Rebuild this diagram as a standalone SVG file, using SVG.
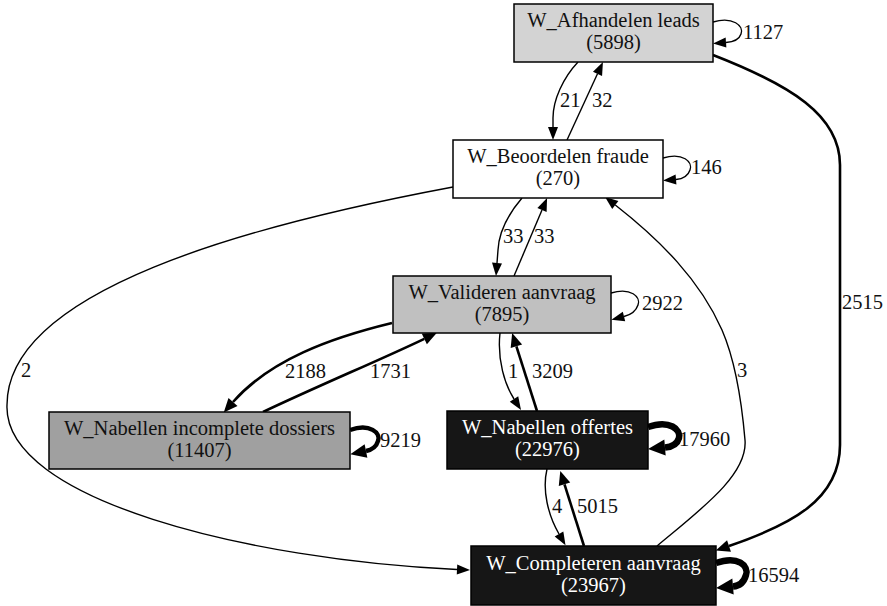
<svg xmlns="http://www.w3.org/2000/svg" width="887" height="606" viewBox="0 0 887 606">
  <style>
    .node rect { stroke: #000; stroke-width: 1.5; }
    .node text { font-family: "Liberation Serif", "Times New Roman", serif; font-size: 20.5px; text-anchor: middle; fill: #111; }
    .node.dark text { fill: #fff; }
    .edges path { fill: none; stroke: #000; }
    .edges text { font-family: "Liberation Serif", "Times New Roman", serif; font-size: 20.5px; fill: #111; }
    .w1 { stroke-width: 1.4; marker-end: url(#a1); }
    .w2 { stroke-width: 2.6; marker-end: url(#a2); }
    .w4 { stroke-width: 4.5; marker-end: url(#a4); }
    .w6 { stroke-width: 6.5; marker-end: url(#a6); }
  </style>
  <defs>
    <marker id="a1" viewBox="0 -5 13 10" refX="0" refY="0" markerWidth="13" markerHeight="10" markerUnits="userSpaceOnUse" orient="auto" overflow="visible">
      <path d="M0,-5 L13,0 L0,5 z" fill="#000"/>
    </marker>
    <marker id="a2" viewBox="0 -6 14 12" refX="0" refY="0" markerWidth="14" markerHeight="12" markerUnits="userSpaceOnUse" orient="auto" overflow="visible">
      <path d="M0,-6 L14,0 L0,6 z" fill="#000"/>
    </marker>
    <marker id="a4" viewBox="0 -7 16 14" refX="0" refY="0" markerWidth="16" markerHeight="14" markerUnits="userSpaceOnUse" orient="auto" overflow="visible">
      <path d="M0,-7 L16,0 L0,7 z" fill="#000"/>
    </marker>
    <marker id="a6" viewBox="0 -8 17 16" refX="0" refY="0" markerWidth="17" markerHeight="16" markerUnits="userSpaceOnUse" orient="auto" overflow="visible">
      <path d="M0,-8 L17,0 L0,8 z" fill="#000"/>
    </marker>
  </defs>

  <rect width="887" height="606" fill="#fff"/>

  <!-- connectors -->
  <g id="edges" class="edges">
    <!-- W_Afhandelen leads loop -->
    <path class="w1" d="M713,22 C733,16 744,26 741,34 C739,40 733,42 726,42.5"/>
    <text x="743" y="39">1127</text>
    <!-- Afhandelen -> Beoordelen -->
    <path class="w1" d="M578,62 C563,78 553,100 553,118 L553,127"/>
    <text x="560" y="107">21</text>
    <!-- Beoordelen -> Afhandelen -->
    <path class="w1" d="M567,140 L597.5,73.8"/>
    <text x="592" y="107">32</text>
    <!-- Afhandelen -> Completeren -->
    <path class="w2" d="M713,55 C790,85 840,115 840,165 L840,445 C840,500 790,525 729,546"/>
    <text x="842" y="309">2515</text>

    <!-- W_Beoordelen fraude loop -->
    <path class="w1" d="M663,158 C683,152 693,162 690,170 C688,176 682,179 676,179.5"/>
    <text x="691" y="174">146</text>
    <!-- Beoordelen -> Valideren -->
    <path class="w1" d="M522,198 C510,212 499,230 498,250 L497,263"/>
    <text x="503" y="243">33</text>
    <!-- Valideren -> Beoordelen -->
    <path class="w1" d="M514,276 L542,210"/>
    <text x="534" y="243">33</text>
    <!-- Beoordelen -> Completeren -->
    <path class="w1" d="M453,187 C250,225 7,290 7,405 C3,500 250,560 457,569.5"/>
    <text x="21" y="377">2</text>
    <!-- Completeren -> Beoordelen -->
    <path class="w1" d="M657,546 C700,510 748,475 745,440 C742,405 735,360 722,330 C700,280 660,240 615.3,205"/>
    <text x="737" y="377">3</text>

    <!-- W_Valideren aanvraag loop -->
    <path class="w1" d="M611,293 C631,287 641,297 638,305 C636,311 630,315 624,316.5"/>
    <text x="642" y="310">2922</text>
    <!-- Valideren -> Nabellen incomplete dossiers -->
    <path class="w2" d="M392,323 C330,338 270,360 233,402"/>
    <text x="285" y="378">2188</text>
    <!-- Nabellen incomplete dossiers -> Valideren -->
    <path class="w2" d="M263,412 C320,385 380,360 424.3,338.8"/>
    <text x="370" y="378">1731</text>
    <!-- Valideren -> Nabellen offertes -->
    <path class="w1" d="M500,333 C497,360 505,385 514,399"/>
    <text x="508" y="378">1</text>
    <!-- Nabellen offertes -> Valideren -->
    <path class="w2" d="M537,411 L516.4,346.3"/>
    <text x="532" y="378">3209</text>

    <!-- W_Nabellen incomplete dossiers loop -->
    <path class="w4" d="M350,430 C370,423 381,433 378,441 C376,448 371,450 366,451"/>
    <text x="380" y="447">9219</text>

    <!-- W_Nabellen offertes loop -->
    <path class="w6" d="M648,427 C670,419 681,430 679,438 C677,445 671,447 665,447.5"/>
    <text x="679" y="446">17960</text>
    <!-- Nabellen offertes -> Completeren -->
    <path class="w1" d="M547,469 C542,490 548,515 559,534"/>
    <text x="552" y="513">4</text>
    <!-- Completeren -> Nabellen offertes -->
    <path class="w2" d="M584,546 L564.5,484.3"/>
    <text x="577" y="513">5015</text>

    <!-- W_Completeren aanvraag loop -->
    <path class="w6" d="M716,563 C738,555 749,566 746,575 C744,582 739,586 733,586.5"/>
    <text x="748" y="582">16594</text>
  </g>

  <!-- nodes -->
  <g id="afhandelen-leads" class="node">
    <rect x="514" y="4" width="199" height="58" fill="#d3d3d3"/>
    <text x="613.5" y="27">W_Afhandelen leads</text>
    <text x="613.5" y="49">(5898)</text>
  </g>
  <g id="beoordelen-fraude" class="node">
    <rect x="453" y="140" width="210" height="58" fill="#ffffff"/>
    <text x="558" y="163">W_Beoordelen fraude</text>
    <text x="558" y="185">(270)</text>
  </g>
  <g id="valideren-aanvraag" class="node">
    <rect x="393" y="276" width="218" height="57" fill="#c0c0c0"/>
    <text x="502" y="298.5">W_Valideren aanvraag</text>
    <text x="502" y="320.5">(7895)</text>
  </g>
  <g id="nabellen-incomplete-dossiers" class="node">
    <rect x="49" y="412" width="301" height="57" fill="#a0a0a0"/>
    <text x="199.5" y="434.5">W_Nabellen incomplete dossiers</text>
    <text x="199.5" y="456.5">(11407)</text>
  </g>
  <g id="nabellen-offertes" class="node dark">
    <rect x="447" y="411" width="201" height="58" fill="#161616"/>
    <text x="547.5" y="434">W_Nabellen offertes</text>
    <text x="547.5" y="456">(22976)</text>
  </g>
  <g id="completeren-aanvraag" class="node dark">
    <rect x="471" y="546" width="245" height="59" fill="#161616"/>
    <text x="593.5" y="569.5">W_Completeren aanvraag</text>
    <text x="593.5" y="591.5">(23967)</text>
  </g>
</svg>
